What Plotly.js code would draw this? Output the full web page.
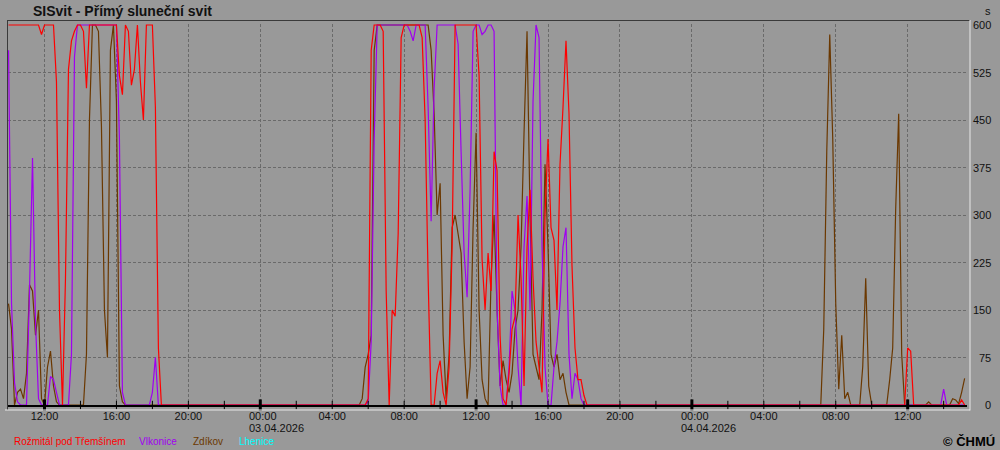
<!DOCTYPE html>
<html>
<head>
<meta charset="utf-8">
<script src="https://cdn.plot.ly/plotly-3.0.1.min.js"></script>
<style>
  html, body { margin: 0; padding: 0; background: #999999; }
  #chart { width: 1000px; height: 450px; }
</style>
</head>
<body>
<div id="chart"></div>
<script>
// ---------------- DATA (10-minute sunshine duration, seconds) ----------------
const stationNames = ['Rožmitál pod Třemšínem', 'Vlkonice', 'Zdíkov', 'Lhenice'];
const stationColors = ['#ff0000', '#a000f0', '#6b3800', '#00ffff'];

// Day 1: 02.04.2026 10:00 .. 18:30
const day1Start = '2026-04-02T10:00:00';
const rozmitalDay1 = [600,600,600,600,600,600,600,600,600,600,
                      600,585,600,600,600,600,510,150,0,200,
                      530,575,590,600,600,590,500,600,600,600,
                      600,600,600,600,600,600,600,520,490,600,
                      590,505,530,600,510,450,600,600,600,470,
                      90,0];
const vlkoniceDay1 = [560,160,35,5,0,0,0,180,390,130,
                      10,0,0,0,45,40,20,0,0,0,
                      0,80,550,600,600,600,600,600,600,600,
                      600,600,600,600,600,600,600,420,20,0,
                      0,0,0,0,0,0,0,0,20,75,
                      0,0];
const zdikovDay1 =   [160,120,0,20,25,10,50,190,180,110,
                      150,10,0,60,85,30,5,0,0,0,
                      0,0,0,0,0,0,80,450,600,600,
                      590,440,150,75,560,600,480,30,5,0,
                      0,0,0,0,0,0,0,0,0,0,
                      0,0];

// Day 2: 03.04.2026 05:30 .. 18:20
const day2Start = '2026-04-03T05:30:00';
const rozmitalDay2 = [0,0,0,10,560,600,600,600,590,180,
                      0,150,140,270,580,600,600,600,600,600,
                      600,580,450,200,0,0,50,70,20,0,
                      60,250,600,600,600,600,600,600,600,600,
                      520,230,150,240,180,400,370,110,10,0,
                      50,120,140,300,200,30,250,340,200,100,
                      60,20,300,420,280,260,150,380,470,575,
                      460,220,90,40,40,15,0];
const vlkoniceDay2 = [0,0,0,5,100,420,600,600,600,600,
                      600,600,600,600,600,600,600,590,575,600,
                      600,600,600,470,290,500,600,600,600,600,
                      600,600,600,570,400,240,170,340,590,600,
                      600,585,590,600,600,590,150,30,0,0,
                      60,180,150,60,0,250,330,150,480,600,
                      580,250,60,0,0,60,100,160,250,280,
                      80,10,50,40,10,0,0];
const zdikovDay2 =   [0,10,60,80,110,560,600,600,600,600,
                      600,600,600,600,600,600,600,600,600,600,
                      600,600,600,
                      600,560,460,300,350,110,10,80,280,300,
                      270,240,100,10,60,280,430,150,40,10,
                      0,200,300,150,30,70,40,20,50,120,
                      150,250,430,590,300,80,60,40,150,380,
                      250,80,60,80,40,50,20,0,0,0,
                      0,0,0,0];

// Day 3: 04.04.2026 06:50 .. 15:10
const day3Start = '2026-04-04T06:50:00';
const rozmitalDay3 = [0,0,0,0,0,0,0,0,0,0,
                      0,0,0,0,0,0,0,0,0,0,
                      0,0,0,0,0,0,0,0,0,0,
                      0,90,85,0,0,0,0,0,0,0,
                      0,0,0,0,0,0,0,0,0,8,
                      0];
const vlkoniceDay3 = [0,0,0,0,0,0,0,0,0,0,
                      0,0,0,0,0,0,0,0,0,0,
                      0,0,0,0,0,0,0,0,0,0,
                      0,0,0,0,0,0,0,0,0,0,
                      0,0,0,25,0,0,0,0,0,0,
                      0];
const zdikovDay3 =   [0,0,0,120,400,585,420,160,25,110,
                      10,20,0,0,0,0,60,200,30,0,
                      0,0,0,0,0,40,90,310,460,80,
                      0,0,0,0,0,0,0,0,5,0,
                      0,0,0,0,0,0,10,8,2,20,
                      42];
const lheniceValues = [];   // no data shown

// Axis labels / ticks
const yTickValues = [0, 75, 150, 225, 300, 375, 450, 525, 600];
const labelTicks = ['2026-04-02 12:00','2026-04-02 16:00','2026-04-02 20:00',
                    '2026-04-03 00:00','2026-04-03 04:00','2026-04-03 08:00','2026-04-03 12:00','2026-04-03 16:00','2026-04-03 20:00',
                    '2026-04-04 00:00','2026-04-04 04:00','2026-04-04 08:00','2026-04-04 12:00'];
const minorTicks = ['2026-04-02 14:00','2026-04-02 18:00','2026-04-02 22:00',
                    '2026-04-03 02:00','2026-04-03 06:00','2026-04-03 10:00','2026-04-03 14:00','2026-04-03 18:00','2026-04-03 22:00',
                    '2026-04-04 02:00','2026-04-04 06:00','2026-04-04 10:00','2026-04-04 14:00'];
const dateLabels = {'2026-04-03 00:00': '03.04.2026', '2026-04-04 00:00': '04.04.2026'};
const xRange = ['2026-04-02 09:58:14', '2026-04-04 15:17:55'];

// ---------------- BUILD ----------------
function times(start, n) {
  const t = Date.parse(start + 'Z');
  const out = [];
  for (let i = 0; i < n; i++) {
    out.push(new Date(t + i * 600000).toISOString().slice(0, 19).replace('T', ' '));
  }
  return out;
}
function series(d1, d2, d3) {
  return {
    x: [...times(day1Start, d1.length), ...times(day2Start, d2.length), ...times(day3Start, d3.length)],
    y: [...d1, ...d2, ...d3]
  };
}
const data = {
  'Rožmitál pod Třemšínem': series(rozmitalDay1, rozmitalDay2, rozmitalDay3),
  'Vlkonice': series(vlkoniceDay1, vlkoniceDay2, vlkoniceDay3),
  'Zdíkov': series(zdikovDay1, zdikovDay2, zdikovDay3),
  'Lhenice': {x: [], y: lheniceValues}
};

const traces = [];
// draw order: Lhenice, Zdíkov, Vlkonice, Rožmitál (red on top)
[3, 2, 1, 0].forEach(i => {
  const nm = stationNames[i];
  traces.push({
    type: 'scatter', mode: 'lines', name: nm,
    x: data[nm].x, y: data[nm].y,
    line: {color: stationColors[i], width: 1.2, simplify: false},
    hoverinfo: 'skip', showlegend: false
  });
});
// axis ticks (crossing the axis line)
const thickTicks = labelTicks.filter(t => t.endsWith('00:00') || t.endsWith('12:00'));
traces.push({
  type: 'scatter', mode: 'markers', x: [...labelTicks, ...minorTicks],
  y: new Array(labelTicks.length + minorTicks.length).fill(0),
  marker: {symbol: 'line-ns', size: 6, line: {color: '#000', width: 1}},
  cliponaxis: false, hoverinfo: 'skip', showlegend: false
});
traces.push({
  type: 'scatter', mode: 'markers', x: thickTicks, y: new Array(thickTicks.length).fill(0),
  marker: {symbol: 'line-ns', size: 8, line: {color: '#000', width: 3}},
  cliponaxis: false, hoverinfo: 'skip', showlegend: false
});

const FONT = 'Liberation Sans, Arial, sans-serif';
const annotations = [];
// right-aligned y labels
yTickValues.forEach(v => annotations.push({
  xref: 'paper', yref: 'y', x: 1, y: v, xanchor: 'right', yanchor: 'middle',
  xshift: 26, text: String(v), showarrow: false, font: {family: FONT, size: 11, color: '#111'}
}));
annotations.push({xref: 'paper', yref: 'paper', x: 1, y: 1, xanchor: 'right', yanchor: 'middle',
  xshift: 26, yshift: 13, text: 's', showarrow: false, font: {family: FONT, size: 11, color: '#111'}});
// midnight labels with date (left aligned block)
Object.keys(dateLabels).forEach(t => {
  annotations.push({xref: 'x', yref: 'paper', x: t, y: 0, xanchor: 'left', yanchor: 'middle',
    xshift: -13, yshift: -11, text: t.slice(11, 16), showarrow: false, font: {family: FONT, size: 11, color: '#111'}});
  annotations.push({xref: 'x', yref: 'paper', x: t, y: 0, xanchor: 'left', yanchor: 'middle',
    xshift: -13, yshift: -23, text: dateLabels[t], showarrow: false, font: {family: FONT, size: 11, color: '#111'}});
});
// legend (colored text)
const legendX = [12, 137, 191, 237];
stationNames.forEach((nm, i) => annotations.push({
  xref: 'paper', yref: 'paper', x: (legendX[i] - 8) / 959, y: 0, xanchor: 'left', yanchor: 'middle',
  yshift: -36, text: nm, showarrow: false, font: {family: FONT, size: 10, color: stationColors[i]}
}));
annotations.push({xref: 'paper', yref: 'paper', x: (997 - 8) / 959, y: 0, xanchor: 'right', yanchor: 'middle',
  yshift: -36, text: '© ČHMÚ', showarrow: false, font: {family: FONT, size: 13, color: '#000', weight: 'bold'}});

const px = v => (v - 8) / 959, py = v => (405 - v) / 381;
const shapes = [
  {type: 'line', xref: 'paper', yref: 'paper', x0: px(7), x1: px(970), y0: py(20.5), y1: py(20.5), line: {color: '#3a3a3a', width: 1}},
  {type: 'line', xref: 'paper', yref: 'paper', x0: px(7.5), x1: px(7.5), y0: py(20), y1: py(410), line: {color: '#3a3a3a', width: 1}},
  {type: 'line', xref: 'paper', yref: 'paper', x0: px(970), x1: px(970), y0: py(20), y1: py(410.5), line: {color: '#e8e8e8', width: 1}},
  {type: 'line', xref: 'paper', yref: 'paper', x0: px(5), x1: px(970), y0: py(410), y1: py(410), line: {color: '#e8e8e8', width: 1}}
];

const layout = {
  width: 1000, height: 450,
  margin: {l: 8, r: 33, t: 24, b: 45, pad: 0},
  paper_bgcolor: '#999999', plot_bgcolor: '#999999',
  showlegend: false,
  title: {text: '<b>SISvit - Přímý sluneční svit</b>', x: 0.033, xanchor: 'left', xref: 'container',
          y: 1 - 11 / 450, yanchor: 'middle', yref: 'container',
          font: {family: FONT, size: 14, color: '#111'}},
  xaxis: {
    type: 'date', range: xRange, tickmode: 'array', tickvals: labelTicks,
    ticktext: labelTicks.map(t => dateLabels[t] ? '' : t.slice(11, 16)),
    ticks: '', showgrid: true, gridcolor: '#6a6a6a', griddash: '3px,2px', gridwidth: 1,
    showline: true, linecolor: '#000', linewidth: 2, zeroline: false,
    tickfont: {family: FONT, size: 11, color: '#111'}, fixedrange: true
  },
  yaxis: {
    range: [0, 601.58], tickmode: 'array', tickvals: yTickValues, showticklabels: false,
    ticks: '', showgrid: true, gridcolor: '#6a6a6a', griddash: '3px,2px', gridwidth: 1,
    zeroline: false, showline: false, fixedrange: true
  },
  annotations: annotations,
  shapes: shapes
};

Plotly.newPlot('chart', traces, layout, {staticPlot: true, displayModeBar: false});
</script>
</body>
</html>
